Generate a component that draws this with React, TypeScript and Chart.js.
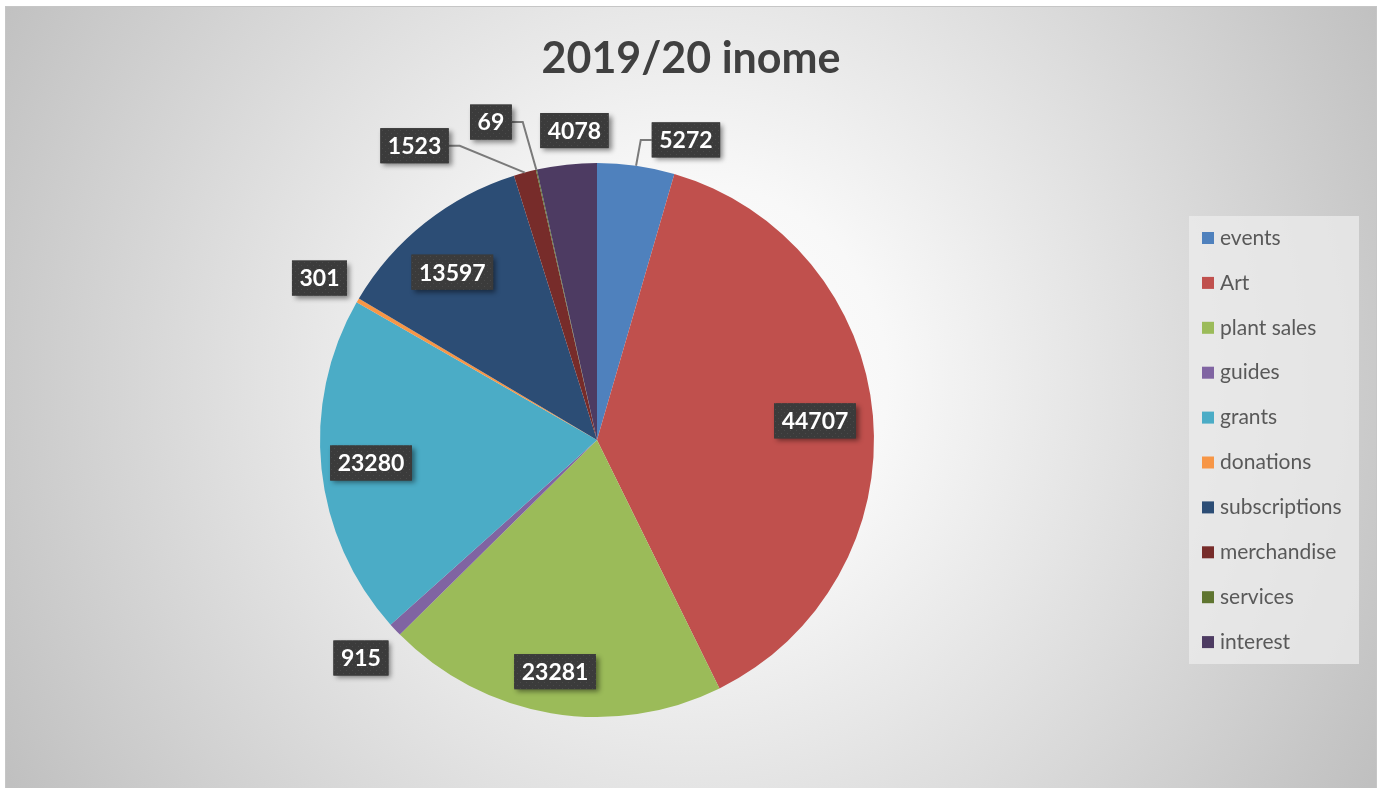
import React, { useEffect, useRef } from "react";
import { Chart, registerables } from "chart.js";

Chart.register(...registerables);

const TITLE = "2019/20 inome";
const categories = [
  "events",
  "Art",
  "plant sales",
  "guides",
  "grants",
  "donations",
  "subscriptions",
  "merchandise",
  "services",
  "interest",
];
const incomeValues = [5272, 44707, 23281, 915, 23280, 301, 13597, 1523, 69, 4078];
const sliceColors = [
  "#4F81BD",
  "#C0504D",
  "#9BBB59",
  "#8064A2",
  "#4BACC6",
  "#F79646",
  "#2C4D75",
  "#772C2A",
  "#5F7530",
  "#4D3B62",
];

// label placement (layout): radial factor relative to the pie radius, angle shift in degrees, leader line flag
const labelRadial = [1.13, 0.79, 0.85, 1.16, 0.82, 1.16, 0.8, 1.25, 1.21, 1.12];
const labelAngleShift = [8.4, 0, 0.7, 0.5, 0.2, 0, -2.4, -16.7, -5.8, 2.1];
const labelLeader = [true, false, false, false, false, false, false, true, true, false];

const W = 1384;
const H = 788;
const FONT = "Lato, 'Open Sans', sans-serif";

function makePattern(ctx: CanvasRenderingContext2D) {
  const c = document.createElement("canvas");
  c.width = 6;
  c.height = 6;
  const p = c.getContext("2d")!;
  p.fillStyle = "#3b3b3b";
  p.fillRect(0, 0, 6, 6);
  p.fillStyle = "#4a4a4a";
  p.fillRect(1, 1, 1, 1);
  p.fillRect(4, 4, 1, 1);
  return ctx.createPattern(c, "repeat");
}

const decorPlugin = {
  id: "decor",
  beforeDraw(chart: any) {
    const ctx: CanvasRenderingContext2D = chart.ctx;
    ctx.save();
    ctx.fillStyle = "#ffffff";
    ctx.fillRect(0, 0, W, H);
    const fx = 5,
      fy = 6,
      fw = 1372,
      fh = 782;
    const g = ctx.createRadialGradient(690, 380, 0, 690, 380, 790);
    g.addColorStop(0, "#ffffff");
    g.addColorStop(0.25, "#f8f8f8");
    g.addColorStop(0.6, "#dedede");
    g.addColorStop(1, "#c0c0c0");
    ctx.fillStyle = g;
    ctx.fillRect(fx, fy, fw, fh);
    ctx.strokeStyle = "#c6c6c6";
    ctx.lineWidth = 1;
    ctx.strokeRect(fx + 0.5, fy + 0.5, fw - 1, fh);
    ctx.restore();
  },
  afterDraw(chart: any) {
    const ctx: CanvasRenderingContext2D = chart.ctx;
    ctx.save();
    // Title
    ctx.font = `bold 43px ${FONT}`;
    ctx.fillStyle = "#404040";
    ctx.textAlign = "center";
    ctx.textBaseline = "alphabetic";
    ctx.fillText(TITLE, 691, 73);

    // Data labels
    const meta = chart.getDatasetMeta(0);
    const pattern = makePattern(ctx);
    ctx.font = `bold 23px ${FONT}`;
    meta.data.forEach((arc: any, i: number) => {
      const { x, y, startAngle, endAngle, outerRadius } = arc.getProps(
        ["x", "y", "startAngle", "endAngle", "outerRadius"],
        true
      );
      const mid = (startAngle + endAngle) / 2;
      const la = mid + (labelAngleShift[i] * Math.PI) / 180;
      const lr = outerRadius * labelRadial[i];
      const cx = x + Math.cos(la) * lr;
      const cy = y + Math.sin(la) * lr;
      const text = String(chart.data.datasets[0].data[i]);
      const tw = ctx.measureText(text).width;
      const bw = tw + 15;
      const bh = 35;
      const bx = cx - bw / 2;
      const by = cy - bh / 2;

      if (labelLeader[i]) {
        const sx = x + Math.cos(mid) * outerRadius;
        const sy = y + Math.sin(mid) * outerRadius;
        const right = cx > sx;
        const ex = right ? bx : bx + bw;
        const elbowX = right ? ex - 11 : ex + 11;
        ctx.strokeStyle = "#7a7a7a";
        ctx.lineWidth = 2;
        ctx.beginPath();
        ctx.moveTo(sx, sy);
        ctx.lineTo(elbowX, cy);
        ctx.lineTo(ex, cy);
        ctx.stroke();
      }

      ctx.save();
      ctx.shadowColor = "rgba(0,0,0,0.45)";
      ctx.shadowBlur = 5;
      ctx.shadowOffsetX = 3;
      ctx.shadowOffsetY = 3;
      ctx.fillStyle = "#3b3b3b";
      ctx.fillRect(bx, by, bw, bh);
      ctx.restore();
      if (pattern) {
        ctx.fillStyle = pattern;
        ctx.fillRect(bx, by, bw, bh);
      }
      ctx.fillStyle = "#ffffff";
      ctx.textAlign = "center";
      ctx.textBaseline = "middle";
      ctx.fillText(text, cx, cy + 1);
    });

    // Legend
    ctx.fillStyle = "rgba(236,236,236,0.75)";
    ctx.fillRect(1189, 216, 170, 448);
    ctx.font = `21px ${FONT}`;
    ctx.textAlign = "left";
    ctx.textBaseline = "middle";
    const labels: string[] = chart.data.labels;
    labels.forEach((lab, i) => {
      const yy = 238 + i * 44.9;
      ctx.fillStyle = chart.data.datasets[0].backgroundColor[i];
      ctx.fillRect(1202, yy - 6, 12, 12);
      ctx.fillStyle = "#595959";
      ctx.fillText(lab, 1220, yy);
    });
    ctx.restore();
  },
};

export default function App() {
  const ref = useRef<HTMLCanvasElement>(null);
  useEffect(() => {
    if (!ref.current) return;
    const chart = new Chart(ref.current, {
      type: "pie",
      data: {
        labels: categories,
        datasets: [
          {
            data: incomeValues,
            backgroundColor: sliceColors,
            borderWidth: 0,
          },
        ],
      },
      options: {
        responsive: false,
        animation: false,
        layout: { padding: { left: 320, right: 510, top: 163, bottom: 71 } },
        plugins: {
          legend: { display: false },
          title: { display: false },
          tooltip: { enabled: false },
        },
      },
      plugins: [decorPlugin],
    });
    return () => chart.destroy();
  }, []);
  return (
    <div style={{ position: "absolute", left: 0, top: 0, width: W, height: H }}>
      <canvas ref={ref} width={W} height={H} style={{ display: "block" }} />
    </div>
  );
}
